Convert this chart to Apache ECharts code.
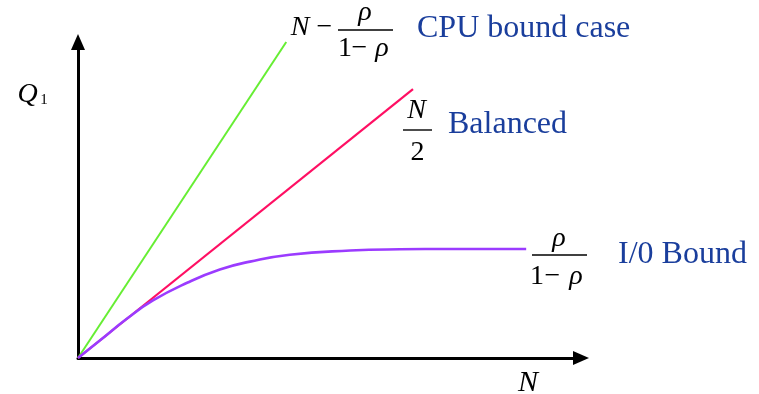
<!DOCTYPE html>
<html>
<head>
<meta charset="utf-8">
<script src="https://cdn.jsdelivr.net/npm/echarts@6/dist/echarts.min.js"></script>
<style>html,body{margin:0;padding:0;background:#fff;}#c{width:759px;height:394px;}</style>
</head>
<body>
<div id="c"></div>
<script>
// Data (N on x, Q1 on y; arbitrary units 0..10)
const cpuX = [0, 4.14];
const cpuY = [0, 10.0];
const balancedX = [0, 6.66];
const balancedY = [0, 8.51];
const ioX = [0, 0.44, 0.97, 1.49, 2.17, 2.82, 3.42, 4.21, 5.41, 6.40, 7.40, 8.91];
const ioY = [0, 0.56, 1.24, 1.82, 2.38, 2.80, 3.05, 3.27, 3.40, 3.44, 3.45, 3.45];
const caseLabels = ['CPU bound case', 'Balanced', 'I/0 Bound'];
const axisNames = ['N', 'Q', '1'];

const pairs = (xs, ys) => xs.map((x, i) => [x, ys[i]]);
const SERIF = 'Liberation Serif';
const BLUE = '#1a3e9c';
const MF = 28;

function txt(text, x, y, opts) {
  return {
    type: 'text', x: x, y: y, silent: true,
    style: Object.assign({
      text: text, fontFamily: SERIF, fontSize: MF, fill: '#000',
      align: 'center', verticalAlign: 'middle'
    }, opts || {})
  };
}
function bar(x1, x2, y) {
  return {type: 'line', silent: true, shape: {x1: x1, y1: y, x2: x2, y2: y},
          style: {stroke: '#000', lineWidth: 1.4}};
}
function oneMinusRho(c1, cm, cr, y) {
  return [
    txt('1', c1, y),
    txt('\u2212', cm, y),
    txt('\u03C1', cr, y, {fontStyle: 'italic'})
  ];
}

const chart = echarts.init(document.getElementById('c'), null, {renderer: 'canvas'});
chart.setOption({
  animation: false,
  backgroundColor: '#fff',
  grid: {left: 78, right: 178, top: 42, bottom: 36},
  xAxis: {
    type: 'value', min: 0, max: 10,
    axisLine: {show: true, onZero: false, symbol: ['none', 'triangle'], symbolSize: [14, 16],
               lineStyle: {color: '#000', width: 3}},
    axisTick: {show: false}, axisLabel: {show: false}, splitLine: {show: false}
  },
  yAxis: {
    type: 'value', min: 0, max: 10,
    axisLine: {show: true, onZero: false, symbol: ['none', 'triangle'], symbolSize: [14, 16],
               lineStyle: {color: '#000', width: 3}},
    axisTick: {show: false}, axisLabel: {show: false}, splitLine: {show: false}
  },
  series: [
    {type: 'line', data: pairs(cpuX, cpuY), symbol: 'none', clip: false,
     lineStyle: {color: '#66ee33', width: 2}},
    {type: 'line', data: pairs(balancedX, balancedY), symbol: 'none', clip: false,
     lineStyle: {color: '#ff0f63', width: 2.2}},
    {type: 'line', data: pairs(ioX, ioY), symbol: 'none', clip: false, smooth: 0.5,
     lineStyle: {color: '#9b3bff', width: 2.6}}
  ],
  graphic: [].concat(
    [
      // axis names
      txt(axisNames[1], 27.5, 94.5, {fontStyle: 'italic'}),
      txt(axisNames[2], 44, 100.5, {fontSize: 15}),
      txt(axisNames[0], 528, 383, {fontSize: 30, fontStyle: 'italic'}),
      // CPU bound: N - rho/(1-rho)
      txt('N', 300, 27.5, {fontStyle: 'italic'}),
      txt('\u2212', 324.5, 27.5),
      txt('\u03C1', 365, 12.5, {fontStyle: 'italic'}),
      bar(338, 393, 30),
      txt(caseLabels[0], 417, 28.5, {fontSize: 32, fill: BLUE, align: 'left'}),
      // Balanced: N/2
      txt('N', 416.5, 110.5, {fontStyle: 'italic'}),
      bar(403, 432, 130),
      txt('2', 417.5, 152.5),
      txt(caseLabels[1], 448, 125, {fontSize: 32, fill: BLUE, align: 'left'}),
      // I/O bound: rho/(1-rho)
      txt('\u03C1', 559, 238.5, {fontStyle: 'italic'}),
      bar(532, 587, 255),
      txt(caseLabels[2], 618, 255, {fontSize: 32, fill: BLUE, align: 'left'})
    ],
    oneMinusRho(345, 359.5, 382, 48.5),
    oneMinusRho(537, 552.5, 576, 276.5)
  )
});
</script>
</body>
</html>
